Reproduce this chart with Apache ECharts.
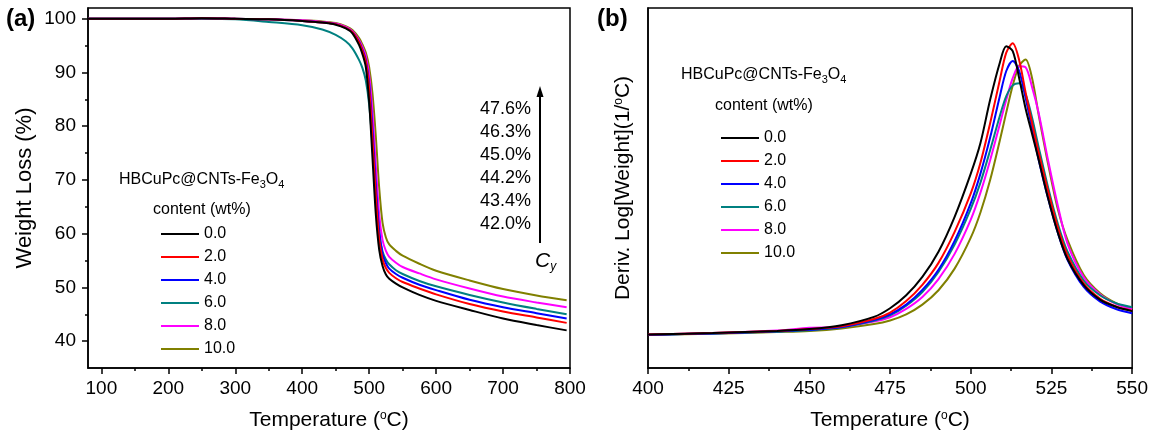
<!DOCTYPE html>
<html><head><meta charset="utf-8">
<script src="https://cdn.jsdelivr.net/npm/echarts@6/dist/echarts.min.js"></script>
<style>html,body{margin:0;padding:0;background:#fff}#c{width:1151px;height:436px}</style>
</head><body><div id="c"></div>
<script>
// ---------- data ----------
const seriesNames = ['0.0', '2.0', '4.0', '6.0', '8.0', '10.0'];
const seriesColors = ['#000000', '#ff0000', '#0000ff', '#008080', '#ff00ff', '#808000'];

// (a) TGA: weight (%) vs temperature (°C)
const tgaTemps = [80,100,150,200,250,300,350,400,430,450,465,475,485,490,495,500,505,510,515,520,525,530,540,550,575,600,650,700,750,795];
const tga00 = [100,100,100,100,100.1,100,99.9,99.6,99.3,98.9,98.2,97.3,95.1,93.4,91.0,84.5,74,63.5,57,54,52.4,51.6,50.7,50.0,48.6,47.5,45.8,44.2,43.0,42.0];
const tga20 = [100,100,100,100,100.1,100,99.9,99.6,99.3,99.0,98.3,97.5,95.6,94.0,92.0,87.0,77.5,67,59,55.2,53.6,52.7,51.7,51.0,49.8,48.7,46.9,45.5,44.4,43.4];
const tga40 = [100,100,100,100,100.1,100,99.9,99.6,99.3,99.0,98.3,97.5,95.7,94.2,92.3,88,79.5,69,60.5,56.2,54.5,53.5,52.5,51.8,50.5,49.5,47.7,46.3,45.2,44.2];
const tga60 = [100,100,100,100,100,99.9,99.4,98.8,98.0,97.0,95.8,94.5,92.3,90.8,88.5,84,76.5,67.5,60,56.7,55.2,54.3,53.2,52.5,51.2,50.2,48.6,47.2,46.0,45.0];
const tga80 = [100,100,100,100,100.1,100,99.9,99.7,99.4,99.1,98.5,97.7,96.0,94.7,93.0,89.5,82.5,72.5,63.5,58.8,56.8,55.7,54.6,53.8,52.6,51.5,49.8,48.3,47.2,46.3];
const tga100 = [100,100,100,100,100.1,100,99.9,99.7,99.5,99.2,98.6,97.9,96.4,95.2,93.7,91,86,78,68.5,62,59.3,58,56.8,55.9,54.4,53.1,51.3,49.7,48.5,47.6];
const tgaXTicks = [100,200,300,400,500,600,700,800];
const tgaXMinor = [150,250,350,450,550,650,750];
const tgaYTicks = [40,50,60,70,80,90,100];
const tgaYMinor = [45,55,65,75,85,95];
const residueLabels = ['47.6%', '46.3%', '45.0%', '44.2%', '43.4%', '42.0%'];

// (b) DTG: derivative (arb. units) vs temperature (°C)
const dtgTemps = [400,420,440,450,460,470,475,480,485,490,495,500,503,506,509,511,513,515,517,519,521,524,527,530,535,540,545,550];
const dtg00 = [9.3,9.7,10.3,10.8,11.9,14.2,16.6,20.2,25.3,32.3,42,54,62.5,74.5,84.8,89.4,88.0,80.5,72,65,58,47,37.5,30.2,23,19,17,15.8];
const dtg20 = [9.3,9.7,10.3,10.8,11.6,13.6,15.4,18.6,23.1,29.2,37.8,48.5,57,68,80,87.6,90.2,85.5,76.5,68,60,49,39,31.3,23.5,19.3,17.1,15.9];
const dtg40 = [9.2,9.6,10.2,10.6,11.4,13.3,14.9,17.6,21.7,27.3,35.3,45.8,54,64,75.5,82.5,85.3,82.5,75,66.5,58,47,37.5,30,22.5,18.5,16.4,15.2];
const dtg60 = [9.2,9.6,10.1,10.5,11.3,13.1,14.6,17.3,21.1,26.7,34.3,44.2,51.5,60.5,70,75.5,78.5,79.1,76,69.5,61.5,50,40,32.3,24.3,20.2,18,16.9];
const dtg80 = [9.3,9.7,10.4,11.2,11.4,12.9,14.1,16.4,19.7,24.7,31.7,41.2,48.7,57.7,67.7,74.5,80.5,83.8,83.5,78,71,57.5,45,34.5,25.2,20.5,17.8,16.3];
const dtg100 = [9.2,9.5,10.0,10.3,11.0,12.2,13.2,14.9,17.6,21.6,27.6,36.2,43.2,52.2,63.2,71,78.5,84,85.7,80.5,70.5,56.5,44,35.5,25.8,20.8,18,16.5];

// ---------- chart ----------
const FONT = "'Liberation Sans', Arial, sans-serif";
const tgaSets = [tga00, tga20, tga40, tga60, tga80, tga100];
const dtgSets = [dtg00, dtg20, dtg40, dtg60, dtg80, dtg100];
const pair = (xs, ys) => xs.map((x, i) => [x, ys[i]]);

const axisLineStyle = {show: true, lineStyle: {color: '#000', width: 1.5}};
const supRich = {sup: {fontSize: 12, fontFamily: FONT, color: '#000', verticalAlign: 'top', lineHeight: 10}};

const series = [];
tgaSets.forEach((d, i) => series.push({
  name: seriesNames[i], type: 'line', xAxisIndex: 0, yAxisIndex: 0,
  data: pair(tgaTemps, d), symbol: 'none', smooth: 0.3,
  lineStyle: {color: seriesColors[i], width: 2}, itemStyle: {color: seriesColors[i]}, z: 10 - i
}));
dtgSets.forEach((d, i) => series.push({
  name: seriesNames[i], type: 'line', xAxisIndex: 2, yAxisIndex: 2,
  data: pair(dtgTemps, d), symbol: 'none', smooth: 0.3,
  lineStyle: {color: seriesColors[i], width: 2}, itemStyle: {color: seriesColors[i]}, z: 10 - i
}));

const legendBase = {
  orient: 'vertical', data: seriesNames, itemWidth: 38, itemHeight: 14, itemGap: 7,
  padding: 0, selectedMode: false, icon: 'path://M0,6 L38,6 L38,8 L0,8 Z',
  textStyle: {fontSize: 16, fontFamily: FONT, color: '#000', padding: [0, 0, 0, 0]}
};

function subTitle(x, y) {
  return {
    type: 'text', x: x, y: y,
    style: {
      text: '{n|HBCuPc@CNTs-Fe}{s|3}{n|O}{s|4}', align: 'left', verticalAlign: 'middle',
      rich: {
        n: {fontSize: 16, fontFamily: FONT, fill: '#000', color: '#000', lineHeight: 20, verticalAlign: 'middle'},
        s: {fontSize: 11, fontFamily: FONT, fill: '#000', color: '#000', lineHeight: 8, verticalAlign: 'bottom'}
      }
    }
  };
}
function plainText(x, y, t, size, extra) {
  return {type: 'text', x: x, y: y, style: Object.assign({text: t, fontSize: size, fontFamily: FONT, fill: '#000', align: 'left', verticalAlign: 'middle'}, extra || {})};
}

const graphics = [
  plainText(6, 19, '(a)', 24, {fontWeight: 'bold'}),
  plainText(597, 19, '(b)', 24, {fontWeight: 'bold'}),
  subTitle(119, 180),
  plainText(153, 210, 'content (wt%)', 16),
  subTitle(681, 75),
  plainText(715, 106, 'content (wt%)', 16),
  // arrow
  {type: 'line', shape: {x1: 540, y1: 243, x2: 540, y2: 95}, style: {stroke: '#000', lineWidth: 2}},
  {type: 'polygon', shape: {points: [[540, 86], [536.5, 97], [543.5, 97]]}, style: {fill: '#000'}},
  {type: 'text', x: 535, y: 261, style: {
    text: '{c|C}{y|y}', align: 'left', verticalAlign: 'middle',
    rich: {
      c: {fontSize: 21, fontStyle: 'italic', fontFamily: FONT, color: '#000', lineHeight: 24, verticalAlign: 'middle'},
      y: {fontSize: 12, fontStyle: 'italic', fontFamily: FONT, color: '#000', lineHeight: 8, verticalAlign: 'bottom'}
    }
  }}
];
residueLabels.forEach((t, i) => graphics.push(plainText(531, 109 + i * 23, t, 18, {align: 'right'})));

const option = {
  animation: false,
  backgroundColor: '#fff',
  textStyle: {fontFamily: FONT},
  grid: [
    {left: 88, right: 581, top: 8, bottom: 68, show: true, borderColor: '#000', borderWidth: 1.5},
    {left: 648, right: 16, top: 8, bottom: 68, show: true, borderColor: '#000', borderWidth: 1.5}
  ],
  legend: [
    Object.assign({}, legendBase, {left: 161, top: 226}),
    Object.assign({}, legendBase, {left: 721, top: 130})
  ],
  xAxis: [
    {type: 'value', gridIndex: 0, position: 'bottom', min: 80, max: 800, axisLine: axisLineStyle,
     axisTick: {show: true, inside: false, length: 6, customValues: tgaXTicks, lineStyle: {color: '#000', width: 1.5}},
     axisLabel: {customValues: tgaXTicks, fontSize: 19, color: '#000', fontFamily: FONT, margin: 11},
     splitLine: {show: false},
     name: 'Temperature ({sup|o}C)', nameLocation: 'middle', nameGap: 42,
     nameTextStyle: {fontSize: 21, fontFamily: FONT, color: '#000', rich: supRich}},
    {type: 'value', gridIndex: 0, position: 'bottom', min: 80, max: 800, axisLine: {show: false},
     axisTick: {show: true, inside: false, length: 3, customValues: tgaXMinor, lineStyle: {color: '#000', width: 1.5}},
     axisLabel: {show: false}, splitLine: {show: false}},
    {type: 'value', gridIndex: 1, position: 'bottom', min: 400, max: 550, interval: 25, axisLine: axisLineStyle,
     axisTick: {show: true, inside: false, length: 6, lineStyle: {color: '#000', width: 1.5}},
     minorTick: {show: true, splitNumber: 2, length: 3, lineStyle: {color: '#000', width: 1.5}},
     axisLabel: {fontSize: 19, color: '#000', fontFamily: FONT, margin: 11},
     splitLine: {show: false}, minorSplitLine: {show: false},
     name: 'Temperature ({sup|o}C)', nameLocation: 'middle', nameGap: 42,
     nameTextStyle: {fontSize: 21, fontFamily: FONT, color: '#000', rich: supRich}}
  ],
  yAxis: [
    {type: 'value', gridIndex: 0, position: 'left', min: 35, max: 102, axisLine: axisLineStyle,
     axisTick: {show: true, inside: false, length: 6, customValues: tgaYTicks, lineStyle: {color: '#000', width: 1.5}},
     axisLabel: {customValues: tgaYTicks, fontSize: 19, color: '#000', fontFamily: FONT, margin: 12},
     splitLine: {show: false},
     name: 'Weight Loss (%)', nameLocation: 'middle', nameGap: 52,
     nameTextStyle: {fontSize: 22, fontFamily: FONT, color: '#000'}},
    {type: 'value', gridIndex: 0, position: 'left', min: 35, max: 102, axisLine: {show: false},
     axisTick: {show: true, inside: false, length: 3, customValues: tgaYMinor, lineStyle: {color: '#000', width: 1.5}},
     axisLabel: {show: false}, splitLine: {show: false}},
    {type: 'value', gridIndex: 1, position: 'left', min: 0, max: 100, axisLine: axisLineStyle,
     axisTick: {show: false}, axisLabel: {show: false}, splitLine: {show: false},
     name: 'Deriv. Log[Weight](1/{sup|o}C)', nameLocation: 'middle', nameGap: 14,
     nameTextStyle: {fontSize: 21, fontFamily: FONT, color: '#000', rich: supRich}}
  ],
  series: series,
  graphic: graphics
};

const chart = echarts.init(document.getElementById('c'), null, {renderer: 'canvas'});
chart.setOption(option);
</script></body></html>
